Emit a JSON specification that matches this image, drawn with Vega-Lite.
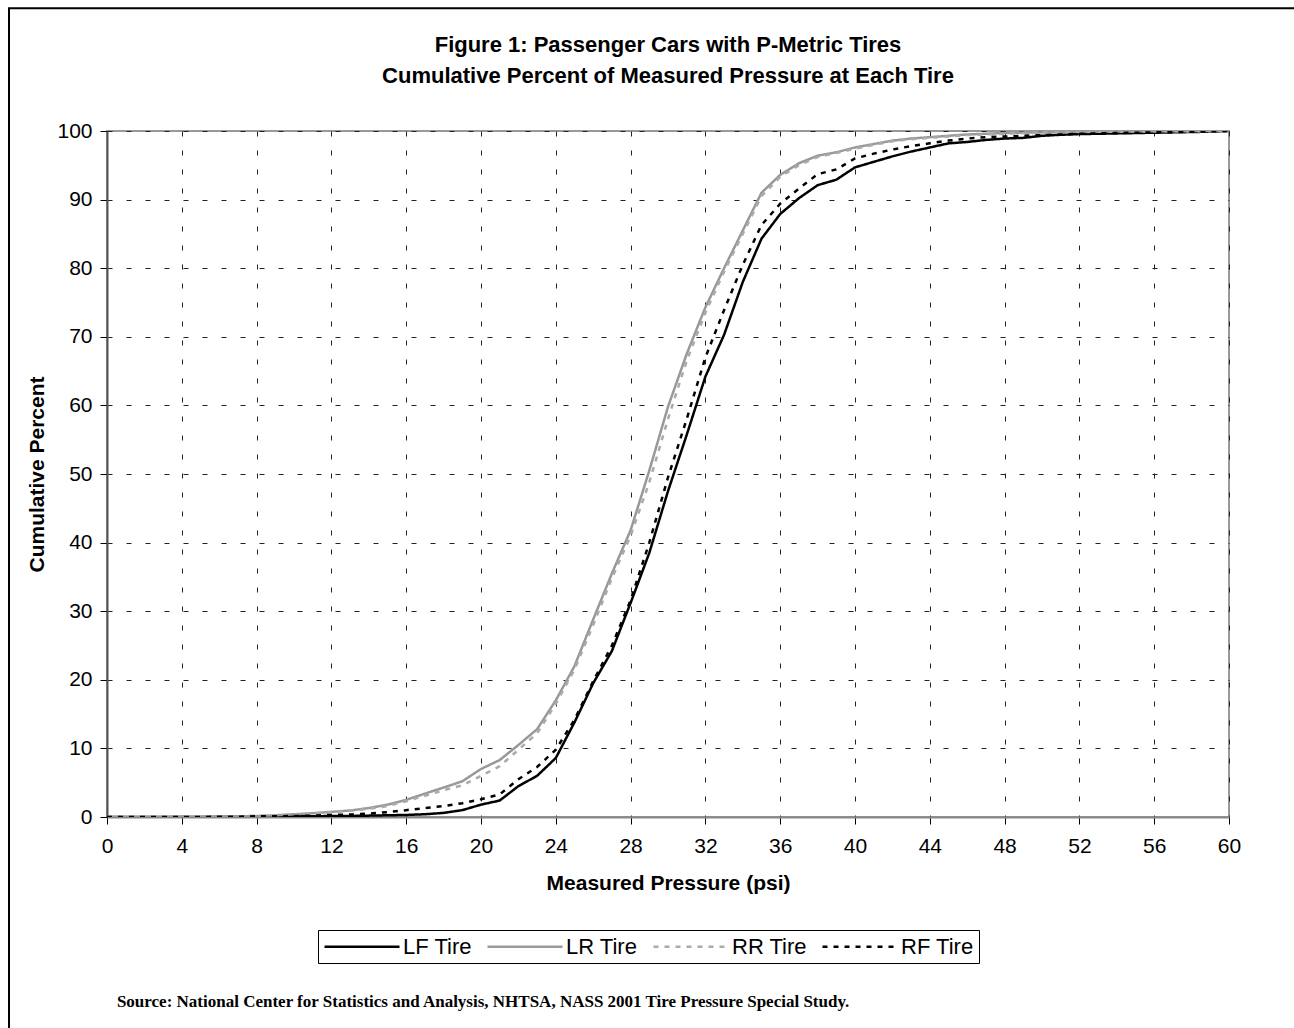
{
  "$schema": "https://vega.github.io/schema/vega-lite/v6.json",
  "width": 1122,
  "height": 686,
  "autosize": {"type": "none"},
  "padding": {"left": 107, "top": 131, "right": 65, "bottom": 211},
  "background": "white",
  "title": {
    "text": ["Figure 1: Passenger Cars with P-Metric Tires", "Cumulative Percent of Measured Pressure at Each Tire"],
    "font": "Liberation Sans",
    "fontSize": 22,
    "fontWeight": "bold",
    "lineHeight": 31,
    "color": "black",
    "anchor": "middle",
    "offset": -81
  },
  "datasets": {
    "tires": [
      {"psi": 0, "LF Tire": 0, "LR Tire": 0, "RR Tire": 0, "RF Tire": 0},
      {"psi": 1, "LF Tire": 0, "LR Tire": 0, "RR Tire": 0, "RF Tire": 0},
      {"psi": 2, "LF Tire": 0, "LR Tire": 0, "RR Tire": 0, "RF Tire": 0},
      {"psi": 3, "LF Tire": 0, "LR Tire": 0, "RR Tire": 0, "RF Tire": 0},
      {"psi": 4, "LF Tire": 0, "LR Tire": 0.05, "RR Tire": 0.05, "RF Tire": 0},
      {"psi": 5, "LF Tire": 0, "LR Tire": 0.05, "RR Tire": 0.05, "RF Tire": 0},
      {"psi": 6, "LF Tire": 0, "LR Tire": 0.1, "RR Tire": 0.1, "RF Tire": 0.05},
      {"psi": 7, "LF Tire": 0, "LR Tire": 0.1, "RR Tire": 0.1, "RF Tire": 0.05},
      {"psi": 8, "LF Tire": 0.05, "LR Tire": 0.15, "RR Tire": 0.15, "RF Tire": 0.1},
      {"psi": 9, "LF Tire": 0.05, "LR Tire": 0.25, "RR Tire": 0.2, "RF Tire": 0.1},
      {"psi": 10, "LF Tire": 0.1, "LR Tire": 0.4, "RR Tire": 0.35, "RF Tire": 0.15},
      {"psi": 11, "LF Tire": 0.1, "LR Tire": 0.55, "RR Tire": 0.5, "RF Tire": 0.2},
      {"psi": 12, "LF Tire": 0.15, "LR Tire": 0.75, "RR Tire": 0.7, "RF Tire": 0.3},
      {"psi": 13, "LF Tire": 0.15, "LR Tire": 0.95, "RR Tire": 0.9, "RF Tire": 0.35},
      {"psi": 14, "LF Tire": 0.2, "LR Tire": 1.3, "RR Tire": 1.2, "RF Tire": 0.5},
      {"psi": 15, "LF Tire": 0.25, "LR Tire": 1.8, "RR Tire": 1.6, "RF Tire": 0.7},
      {"psi": 16, "LF Tire": 0.3, "LR Tire": 2.5, "RR Tire": 2.3, "RF Tire": 1.0},
      {"psi": 17, "LF Tire": 0.4, "LR Tire": 3.4, "RR Tire": 3.1, "RF Tire": 1.3},
      {"psi": 18, "LF Tire": 0.6, "LR Tire": 4.3, "RR Tire": 3.9, "RF Tire": 1.6},
      {"psi": 19, "LF Tire": 1.0, "LR Tire": 5.2, "RR Tire": 4.6, "RF Tire": 2.0},
      {"psi": 20, "LF Tire": 1.8, "LR Tire": 7.0, "RR Tire": 6.0, "RF Tire": 2.6},
      {"psi": 21, "LF Tire": 2.4, "LR Tire": 8.3, "RR Tire": 7.4, "RF Tire": 3.3},
      {"psi": 22, "LF Tire": 4.5, "LR Tire": 10.5, "RR Tire": 9.8, "RF Tire": 5.5},
      {"psi": 23, "LF Tire": 6.0, "LR Tire": 12.8, "RR Tire": 12.2, "RF Tire": 7.3},
      {"psi": 24, "LF Tire": 8.6, "LR Tire": 17.0, "RR Tire": 16.5, "RF Tire": 9.8},
      {"psi": 25, "LF Tire": 13.8, "LR Tire": 22.0, "RR Tire": 21.5, "RF Tire": 14.2},
      {"psi": 26, "LF Tire": 19.5, "LR Tire": 28.8, "RR Tire": 28.0, "RF Tire": 19.8},
      {"psi": 27, "LF Tire": 24.2, "LR Tire": 35.5, "RR Tire": 34.8, "RF Tire": 25.0},
      {"psi": 28, "LF Tire": 31.2, "LR Tire": 41.8, "RR Tire": 41.0, "RF Tire": 31.6},
      {"psi": 29, "LF Tire": 38.5, "LR Tire": 50.5, "RR Tire": 48.8, "RF Tire": 40.0},
      {"psi": 30, "LF Tire": 47.5, "LR Tire": 59.8, "RR Tire": 58.0, "RF Tire": 49.5},
      {"psi": 31, "LF Tire": 55.7, "LR Tire": 67.5, "RR Tire": 66.5, "RF Tire": 58.0},
      {"psi": 32, "LF Tire": 64.2, "LR Tire": 74.3, "RR Tire": 73.5, "RF Tire": 67.0},
      {"psi": 33, "LF Tire": 70.3, "LR Tire": 80.0, "RR Tire": 79.5, "RF Tire": 73.9},
      {"psi": 34, "LF Tire": 78.0, "LR Tire": 85.5, "RR Tire": 85.0, "RF Tire": 80.5},
      {"psi": 35, "LF Tire": 84.3, "LR Tire": 91.0, "RR Tire": 90.5, "RF Tire": 86.3},
      {"psi": 36, "LF Tire": 87.9, "LR Tire": 93.6, "RR Tire": 93.3, "RF Tire": 89.4},
      {"psi": 37, "LF Tire": 90.2, "LR Tire": 95.3, "RR Tire": 95.0, "RF Tire": 91.6},
      {"psi": 38, "LF Tire": 92.1, "LR Tire": 96.4, "RR Tire": 96.2, "RF Tire": 93.7},
      {"psi": 39, "LF Tire": 92.9, "LR Tire": 96.9, "RR Tire": 96.8, "RF Tire": 94.4},
      {"psi": 40, "LF Tire": 94.7, "LR Tire": 97.6, "RR Tire": 97.4, "RF Tire": 96.0},
      {"psi": 41, "LF Tire": 95.5, "LR Tire": 98.1, "RR Tire": 98.0, "RF Tire": 96.7},
      {"psi": 42, "LF Tire": 96.3, "LR Tire": 98.6, "RR Tire": 98.5, "RF Tire": 97.3},
      {"psi": 43, "LF Tire": 97.0, "LR Tire": 98.9, "RR Tire": 98.8, "RF Tire": 97.8},
      {"psi": 44, "LF Tire": 97.6, "LR Tire": 99.1, "RR Tire": 99.0, "RF Tire": 98.2},
      {"psi": 45, "LF Tire": 98.2, "LR Tire": 99.3, "RR Tire": 99.2, "RF Tire": 98.6},
      {"psi": 46, "LF Tire": 98.4, "LR Tire": 99.5, "RR Tire": 99.4, "RF Tire": 98.9},
      {"psi": 47, "LF Tire": 98.7, "LR Tire": 99.6, "RR Tire": 99.5, "RF Tire": 99.1},
      {"psi": 48, "LF Tire": 98.9, "LR Tire": 99.7, "RR Tire": 99.6, "RF Tire": 99.2},
      {"psi": 49, "LF Tire": 99.0, "LR Tire": 99.75, "RR Tire": 99.7, "RF Tire": 99.3},
      {"psi": 50, "LF Tire": 99.3, "LR Tire": 99.8, "RR Tire": 99.75, "RF Tire": 99.4},
      {"psi": 51, "LF Tire": 99.45, "LR Tire": 99.85, "RR Tire": 99.8, "RF Tire": 99.5},
      {"psi": 52, "LF Tire": 99.55, "LR Tire": 99.9, "RR Tire": 99.85, "RF Tire": 99.6},
      {"psi": 53, "LF Tire": 99.6, "LR Tire": 99.9, "RR Tire": 99.9, "RF Tire": 99.65},
      {"psi": 54, "LF Tire": 99.65, "LR Tire": 99.92, "RR Tire": 99.9, "RF Tire": 99.7},
      {"psi": 55, "LF Tire": 99.7, "LR Tire": 99.95, "RR Tire": 99.92, "RF Tire": 99.75},
      {"psi": 56, "LF Tire": 99.75, "LR Tire": 99.95, "RR Tire": 99.95, "RF Tire": 99.8},
      {"psi": 57, "LF Tire": 99.8, "LR Tire": 99.97, "RR Tire": 99.95, "RF Tire": 99.85},
      {"psi": 58, "LF Tire": 99.85, "LR Tire": 99.98, "RR Tire": 99.97, "RF Tire": 99.9},
      {"psi": 59, "LF Tire": 99.9, "LR Tire": 99.99, "RR Tire": 99.98, "RF Tire": 99.95},
      {"psi": 60, "LF Tire": 100, "LR Tire": 100, "RR Tire": 100, "RF Tire": 100}
    ]
  },
  "layer": [
    {
      "data": {"values": [{}]},
      "mark": {"type": "rect", "fillOpacity": 0, "stroke": "black", "strokeWidth": 2, "clip": false},
      "encoding": {
        "x": {"datum": -5.24, "type": "quantitative"},
        "x2": {"datum": 64.2},
        "y": {"datum": 117.9, "type": "quantitative"},
        "y2": {"datum": -31}
      }
    },
    {
      "data": {"name": "tires"},
      "transform": [{"fold": ["LF Tire", "LR Tire", "RR Tire", "RF Tire"], "as": ["tire", "pct"]}],
      "mark": {"type": "line", "strokeWidth": 2.5, "clip": true},
      "encoding": {
        "x": {
          "field": "psi", "type": "quantitative",
          "scale": {"domain": [0, 60], "nice": false, "zero": false},
          "axis": {"title": "Measured Pressure (psi)", "labelFlush": false, "values": [0, 4, 8, 12, 16, 20, 24, 28, 32, 36, 40, 44, 48, 52, 56, 60]}
        },
        "y": {
          "field": "pct", "type": "quantitative",
          "scale": {"domain": [0, 100], "nice": false},
          "axis": {"title": "Cumulative Percent", "labelFlush": false, "values": [0, 10, 20, 30, 40, 50, 60, 70, 80, 90, 100]}
        },
        "color": {
          "field": "tire", "type": "nominal",
          "scale": {"domain": ["LF Tire", "LR Tire", "RR Tire", "RF Tire"], "range": ["#000000", "#999999", "#aaaaaa", "#000000"]},
          "legend": {"title": null}
        },
        "strokeDash": {
          "field": "tire", "type": "nominal",
          "scale": {"domain": ["LF Tire", "LR Tire", "RR Tire", "RF Tire"], "range": [[1, 0], [1, 0], [5, 6], [5, 6]]},
          "legend": {"title": null}
        },
        "order": {"field": "psi", "type": "quantitative"}
      }
    },
    {
      "data": {"values": [{}]},
      "mark": {"type": "text", "text": "Source: National Center for Statistics and Analysis, NHTSA, NASS 2001 Tire Pressure Special Study.", "align": "left", "baseline": "middle", "font": "Liberation Serif", "fontWeight": "bold", "fontSize": 17, "color": "black", "clip": false},
      "encoding": {
        "x": {"datum": 0.53, "type": "quantitative"},
        "y": {"datum": -26.97, "type": "quantitative"}
      }
    }
  ],
  "config": {
    "font": "Liberation Sans",
    "view": {"stroke": "#999999", "strokeWidth": 2},
    "axis": {
      "labelFont": "Liberation Sans",
      "labelFontSize": 21,
      "labelColor": "black",
      "titleFont": "Liberation Sans",
      "titleFontSize": 21,
      "titleFontWeight": "bold",
      "titleColor": "black",
      "grid": true,
      "gridColor": "#222222",
      "gridDash": [5, 14],
      "gridWidth": 1,
      "tickColor": "black",
      "tickSize": 7,
      "tickWidth": 1
    },
    "axisX": {"domainColor": "#888888", "domainWidth": 2, "labelPadding": 11, "titlePadding": 16},
    "axisY": {"domainColor": "#555555", "domainWidth": 2, "labelPadding": 8, "titlePadding": 9},
    "legend": {
      "orient": "none",
      "legendX": 211,
      "legendY": 799,
      "direction": "horizontal",
      "columns": 4,
      "strokeColor": "black",
      "strokeWidth": 1,
      "padding": 5,
      "symbolType": "M-1,0H6.5",
      "symbolSize": 400,
      "symbolStrokeWidth": 2.5,
      "labelFont": "Liberation Sans",
      "labelFontSize": 22,
      "labelColor": "black",
      "labelOffset": 57,
      "columnPadding": 10
    }
  }
}
